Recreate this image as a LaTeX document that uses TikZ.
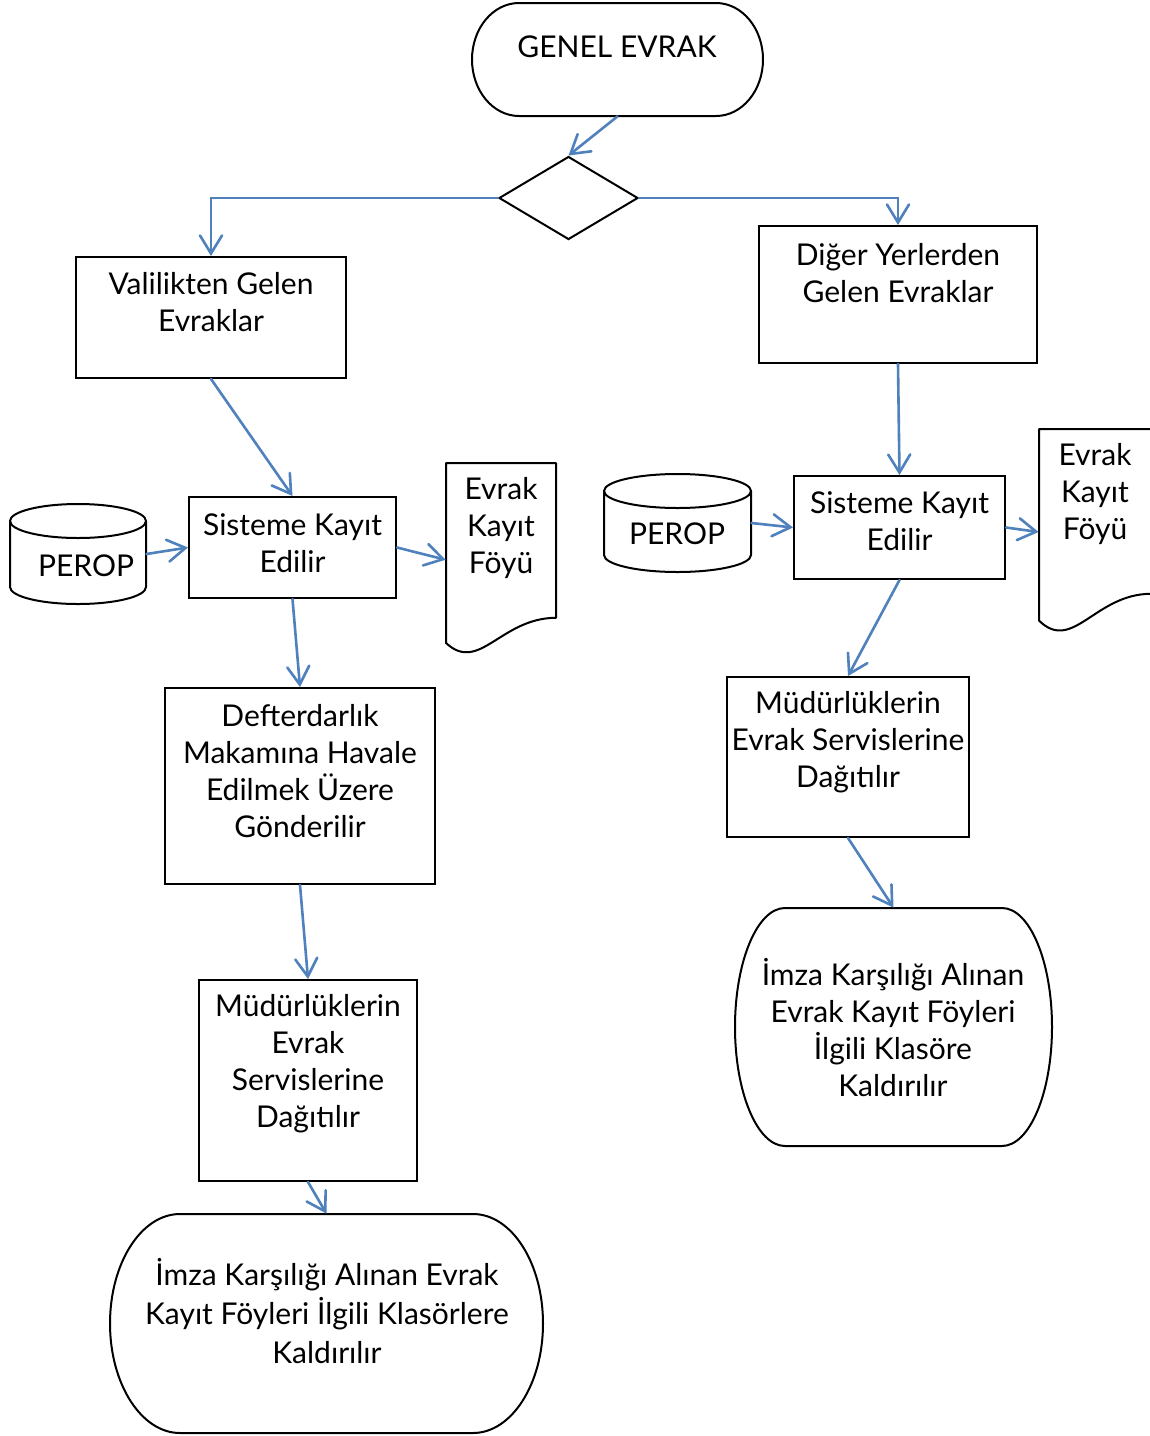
\documentclass[tikz,border=0pt]{standalone}
\usepackage{fontspec}
\setmainfont{Lato}
\usetikzlibrary{arrows.meta,shapes.geometric}
\definecolor{arrblue}{RGB}{79,129,189}
\newcommand\myterm[5]{%
 \pgfmathsetmacro\ta{#1+#5}\pgfmathsetmacro\tb{#3-#5}%
 \pgfmathsetmacro\tc{(#2+#4)/2}\pgfmathsetmacro\tr{(#4-#2)/2}%
 \pgfmathsetmacro\kx{0.5523*#5}\pgfmathsetmacro\ky{0.5523*\tr}%
 \draw[shp] (\ta,#2) -- (\tb,#2) .. controls (\tb+\kx,#2) and (#3,\tc-\ky) .. (#3,\tc)
   .. controls (#3,\tc+\ky) and (\tb+\kx,#4) .. (\tb,#4) -- (\ta,#4)
   .. controls (\ta-\kx,#4) and (#1,\tc+\ky) .. (#1,\tc)
   .. controls (#1,\tc-\ky) and (\ta-\kx,#2) .. (\ta,#2) -- cycle;}
\newcommand\mycyl[5]{%
 \pgfmathsetmacro\ccx{(#1+#3)/2}\pgfmathsetmacro\crx{(#3-#1)/2}%
 \pgfmathsetmacro\kx{0.5523*\crx}\pgfmathsetmacro\ky{0.5523*#5}%
 \draw[shp] (#1,#2+#5) .. controls (#1,#2+#5-\ky) and (\ccx-\kx,#2) .. (\ccx,#2)
   .. controls (\ccx+\kx,#2) and (#3,#2+#5-\ky) .. (#3,#2+#5)
   .. controls (#3,#2+#5+\ky) and (\ccx+\kx,#2+2*#5) .. (\ccx,#2+2*#5)
   .. controls (\ccx-\kx,#2+2*#5) and (#1,#2+#5+\ky) .. (#1,#2+#5) -- cycle;
 \draw[shp] (#1,#2+#5) -- (#1,#4-#5) .. controls (#1,#4-#5+\ky) and (\ccx-\kx,#4) .. (\ccx,#4)
   .. controls (\ccx+\kx,#4) and (#3,#4-#5+\ky) .. (#3,#4-#5) -- (#3,#2+#5);}
\newcommand\mydoc[4]{%
 \pgfmathsetmacro\dw{#3-#1}%
 \draw[shp] (#1,#2+0.93*#4) -- (#1,#2) -- (#3,#2) -- (#3,#2+0.80*#4)
   .. controls (#1+0.5*\dw,#2+0.80*#4) and (#1+0.3*\dw,#2+1.09*#4) .. (#1,#2+0.93*#4) -- cycle;}
\begin{document}
\begin{tikzpicture}[x=0.5pt,y=-0.5pt,
  box/.style={draw=black, line width=1pt, rectangle, inner sep=0pt},
  ghost/.style={rectangle, inner sep=0pt, draw=none},
  shp/.style={draw=black, line width=1pt, line join=round},
  txt/.style={align=center, font=\fontsize{15}{18.5}\selectfont, inner sep=0pt},
  arr/.style={draw=arrblue, line width=1.3pt, line cap=round,
    -{Straight Barb[length=9pt,width=11pt,line cap=round]}}]
\useasboundingbox[fill=white] (0,0) rectangle (1150,1436);

% start terminator
\node[ghost, minimum width=145.5pt, minimum height=56.5pt] (genel) at (617.5,59.5) {};
\myterm{472}{3}{763}{116}{47}
\node[txt] (genelT) at (617,47) {GENEL EVRAK};

% decision
\node[diamond, draw=black, line width=1pt, inner sep=0pt, minimum width=69.5pt, minimum height=41.5pt] (dia) at (568.5,198) {};

% left branch
\node[box, minimum width=135pt, minimum height=60.5pt] (vali) at (211,317.5) {};
\node[txt] (valiT) at (211,302.5) {Valilikten Gelen\\Evraklar};

\node[box, minimum width=103.5pt, minimum height=50.5pt] (sisL) at (292.5,547.5) {};
\node[txt] (sisLT) at (292.5,543.5) {Sisteme Kayıt\\Edilir};

\node[ghost, minimum width=68pt, minimum height=50pt] (perL) at (78,554) {};
\mycyl{10}{504}{146}{604}{17}
\node[txt] (perLT) at (86,566) {PEROP};

\node[ghost, minimum width=55pt, minimum height=96.75pt] (docL) at (501,559.75) {};
\mydoc{446}{463}{556}{193.5}
\node[txt] (docLT) at (501,528) {Evrak\\Kayıt\\Föyü};

\node[box, minimum width=135pt, minimum height=98pt] (def) at (300,786) {};
\node[txt] (defT) at (300,771.5) {Defterdarlık\\Makamına Havale\\Edilmek Üzere\\Gönderilir};

\node[box, minimum width=109pt, minimum height=100.5pt] (mudL) at (308,1080.5) {};
\node[txt] (mudLT) at (308,1063.5) {Müdürlüklerin\\Evrak\\Servislerine\\Dağıtılır};

\node[ghost, minimum width=216.5pt, minimum height=109.5pt] (termL) at (326.5,1323.5) {};
\myterm{110}{1214}{543}{1433}{70}
\node[txt, font=\fontsize{15}{19.5}\selectfont] (termLT) at (327,1311) {İmza Karşılığı Alınan Evrak\\Kayıt Föyleri İlgili Klasörlere\\Kaldırılır};

% right branch
\node[box, minimum width=139pt, minimum height=68.5pt] (diger) at (898,294.5) {};
\node[txt] (digerT) at (898,273) {Diğer Yerlerden\\Gelen Evraklar};

\node[box, minimum width=105.5pt, minimum height=51.5pt] (sisR) at (899.5,527.5) {};
\node[txt] (sisRT) at (899.5,521.5) {Sisteme Kayıt\\Edilir};

\node[ghost, minimum width=73.5pt, minimum height=49pt] (perR) at (677.5,523) {};
\mycyl{604}{474}{751}{572}{17}
\node[txt] (perRT) at (677,534) {PEROP};

\node[ghost, minimum width=56pt, minimum height=103pt] (docR) at (1095,532) {};
\mydoc{1039}{429}{1151}{206}
\node[txt] (docRT) at (1095,494) {Evrak\\Kayıt\\Föyü};

\node[box, minimum width=121pt, minimum height=80pt] (mudR) at (848,757) {};
\node[txt] (mudRT) at (848,742) {Müdürlüklerin\\Evrak Servislerine\\Dağıtılır};

\node[ghost, minimum width=158.5pt, minimum height=119pt] (termR) at (893.5,1027) {};
\myterm{735}{908}{1052}{1146}{50}
\node[txt] (termRT) at (893,1027.5) {İmza Karşılığı Alınan\\Evrak Kayıt Föyleri\\İlgili Klasöre\\Kaldırılır};

% connectors
\draw[arr] (genel.south) -- (dia.north);
\draw[arr] (dia.west) -| (vali.north);
\draw[arr] (dia.east) -| (diger.north);
\draw[arr] (vali.south) -- (sisL.north);
\draw[arr] (perL.east) -- (sisL.west);
\draw[arr] (sisL.east) -- (docL.west);
\draw[arr] (sisL.south) -- (def.north);
\draw[arr] (def.south) -- (mudL.north);
\draw[arr] (mudL.south) -- (termL.north);
\draw[arr] (diger.south) -- (sisR.north);
\draw[arr] (perR.east) -- (sisR.west);
\draw[arr] (sisR.east) -- (docR.west);
\draw[arr] (sisR.south) -- (mudR.north);
\draw[arr] (mudR.south) -- (termR.north);
\end{tikzpicture}
\end{document}
